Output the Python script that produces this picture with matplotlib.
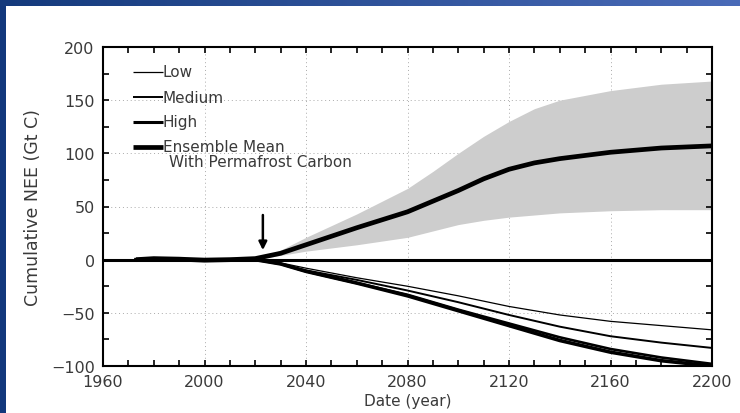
import numpy as np
import matplotlib
matplotlib.use("Agg")
import matplotlib.pyplot as plt
from matplotlib.lines import Line2D
from matplotlib.ticker import MultipleLocator
from matplotlib.colors import LinearSegmentedColormap

plt.rcParams['font.family'] = ['DejaVu Sans']

# ---- data ----
years_pos = [1973, 1980, 1990, 2000, 2010, 2020, 2030, 2040, 2060, 2080, 2100, 2110, 2120, 2130, 2140, 2160, 2180, 2200]
mean_pos  = [0, 1, 0.5, -0.5, 0, 1, 6, 14, 30, 45, 65, 76, 85, 91, 95, 101, 105, 107]

band_years = [2020, 2030, 2040, 2060, 2080, 2090, 2100, 2110, 2120, 2130, 2140, 2160, 2180, 2200]
band_upper = [0, 9, 21, 43, 67, 83, 100, 116, 130, 142, 150, 159, 165, 168]
band_lower = [0, 4, 8, 14, 21, 27, 33, 37, 40, 42, 44, 46, 47, 47]

years_neg = [1973, 2000, 2020, 2030, 2040, 2060, 2080, 2100, 2120, 2140, 2160, 2180, 2200]
low_neg   = [0, 0, 0, -3, -8, -17, -25, -34, -44, -52, -58, -62, -66]
med_neg   = [0, 0, 0, -4, -10, -19, -29, -40, -52, -63, -72, -78, -83]
high_neg  = [0, 0, 0, -4, -11, -22, -33, -47, -60, -73, -84, -92, -98]
mean_neg  = [0, 0, 0, -4, -11, -22, -34, -48, -62, -76, -87, -95, -100]

xticks = [1960, 2000, 2040, 2080, 2120, 2160, 2200]
yticks = [-100, -50, 0, 50, 100, 150, 200]
ytick_labels = ['\u2212100', '\u221250', '0', '50', '100', '150', '200']
arrow_year = 2023

legend_labels = ['Low', 'Medium', 'High', 'Ensemble Mean\nWith Permafrost Carbon']
legend_widths = [0.9, 1.4, 2.2, 3.4]

# ---- figure ----
fig = plt.figure(figsize=(7.4, 4.14), dpi=100)
fig.patch.set_facecolor('white')

# blue border strips
top = fig.add_axes([0, 1 - 7/414, 1, 7/414])
grad = np.linspace(0, 1, 256).reshape(1, -1)
cm = LinearSegmentedColormap.from_list('b', ['#143a7c', '#4a6bb8'])
top.imshow(grad, aspect='auto', cmap=cm, extent=[0, 1, 0, 1])
top.set_axis_off()
left = fig.add_axes([0, 0, 6/740, 1 - 7/414])
left.set_facecolor('#12387c')
left.set_xticks([]); left.set_yticks([])
for s in left.spines.values():
    s.set_visible(False)

ax = fig.add_axes([103/740, 1 - 367/414, 609/740, 319/414])
ax.set_xlim(1960, 2200)
ax.set_ylim(-100, 200)

# grid
for x in xticks[1:-1]:
    ax.axvline(x, color='#aaaaaa', lw=0.7, ls=(0, (1, 3)), zorder=0)
for y in [-50, 50, 100, 150]:
    ax.axhline(y, color='#aaaaaa', lw=0.7, ls=(0, (1, 3)), zorder=0)

# band
ax.fill_between(band_years, band_lower, band_upper, color='#cdcdcd', lw=0, zorder=1)

# zero line
ax.axhline(0, color='black', lw=2.2, zorder=2)

# negative curves
ax.plot(years_neg, low_neg, color='black', lw=0.9, zorder=3)
ax.plot(years_neg, med_neg, color='black', lw=1.4, zorder=3)
ax.plot(years_neg, high_neg, color='black', lw=1.9, zorder=3)
ax.plot(years_neg, mean_neg, color='black', lw=2.6, zorder=3)

# positive ensemble mean
ax.plot(years_pos, mean_pos, color='black', lw=3.4, zorder=4, solid_capstyle='butt')

# arrow
ax.annotate('', xy=(arrow_year, 9), xytext=(arrow_year, 42),
            arrowprops=dict(arrowstyle='-|>', color='black', lw=1.8,
                            mutation_scale=12, shrinkA=0, shrinkB=0), zorder=5)

# ticks
ax.set_xticks(xticks)
ax.set_yticks(yticks)
ax.set_yticklabels(ytick_labels)
ax.xaxis.set_minor_locator(MultipleLocator(10))
ax.yaxis.set_minor_locator(MultipleLocator(25))
ax.tick_params(which='both', direction='in', top=True, right=True,
               labelsize=11.5, colors='black', labelcolor='#3a3a3a',
               length=4, width=1.2)
ax.tick_params(axis='x', pad=6)
ax.tick_params(axis='y', pad=6)
for s in ax.spines.values():
    s.set_linewidth(1.5)

ax.set_xlabel('Date (year)', fontsize=11, color='#3a3a3a', labelpad=3)
ax.set_ylabel('Cumulative NEE (Gt C)', fontsize=12.5, color='#3a3a3a', labelpad=6)

# legend (manual)
row_y = [0.922, 0.843, 0.765, 0.687]
for lab, lw, yy in zip(legend_labels, legend_widths, row_y):
    ax.add_line(Line2D([0.049, 0.0985], [yy, yy], transform=ax.transAxes,
                       color='black', lw=lw, solid_capstyle='butt', zorder=6))
    first, *rest = lab.split('\n')
    ax.text(0.0985, yy, first, transform=ax.transAxes, fontsize=11,
            color='#3a3a3a', va='center', ha='left', zorder=6)
    for k, r in enumerate(rest):
        ax.text(0.108, yy - 0.046 * (k + 1), r, transform=ax.transAxes,
                fontsize=11, color='#3a3a3a', va='center', ha='left', zorder=6)

fig.savefig('out.png', dpi=100, facecolor='white')
